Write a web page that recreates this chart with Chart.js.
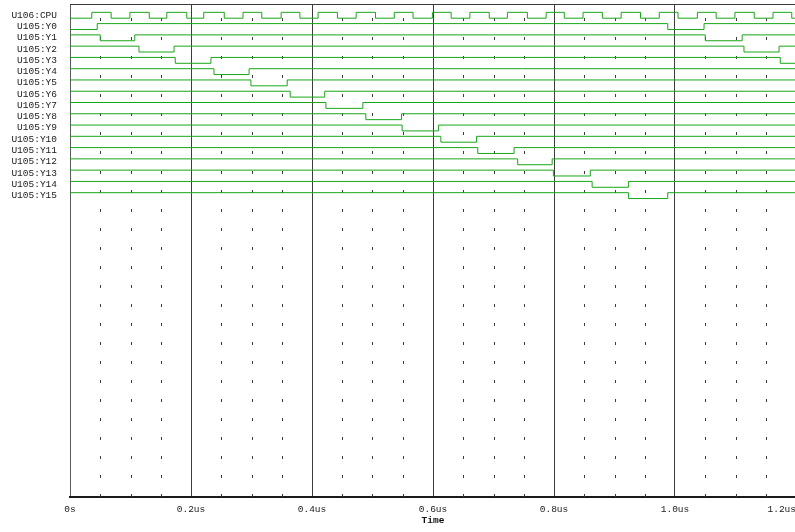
<!DOCTYPE html>
<html>
<head>
<meta charset="utf-8">
<title>U105 decoder timing</title>
<script src="https://cdn.jsdelivr.net/npm/chart.js@4/dist/chart.umd.min.js"></script>
<style>
  html, body { margin: 0; padding: 0; background: #ffffff; overflow: hidden; }
  canvas { display: block; }
</style>
</head>
<body>
<canvas id="wave" width="850" height="532"></canvas>
<script>
// Trace names, top to bottom
const signalNames = ['U106:CPU', 'U105:Y0', 'U105:Y1', 'U105:Y2', 'U105:Y3', 'U105:Y4', 'U105:Y5',
    'U105:Y6', 'U105:Y7', 'U105:Y8', 'U105:Y9', 'U105:Y10', 'U105:Y11', 'U105:Y12',
    'U105:Y13', 'U105:Y14', 'U105:Y15'];

// Level at t = 0 (1 = high, 0 = low)
const startLevels = [0, 0, 1, 1, 1, 1, 1, 1, 1, 1, 1, 1, 1, 1, 1, 1, 1];

// Edge times in us (each edge toggles the level)
const cpuEdges = [0.036, 0.068, 0.099, 0.131, 0.160, 0.193, 0.221, 0.255, 0.286, 0.317,
    0.349, 0.380, 0.410, 0.442, 0.473, 0.505, 0.536, 0.567, 0.599, 0.630, 0.661, 0.693,
    0.723, 0.756, 0.787, 0.817, 0.848, 0.880, 0.911, 0.943, 0.974, 1.005, 1.037, 1.068,
    1.099, 1.131, 1.162, 1.193];
const decoderEdges = [
    [0.045, 0.988, 1.048],          // Y0
    [0.050, 0.107, 1.050, 1.111],   // Y1
    [0.114, 0.172, 1.114, 1.172],   // Y2
    [0.174, 0.233, 1.174],          // Y3
    [0.238, 0.296],                 // Y4
    [0.299, 0.359],                 // Y5
    [0.364, 0.421],                 // Y6
    [0.423, 0.484],                 // Y7
    [0.489, 0.548],                 // Y8
    [0.549, 0.609],                 // Y9
    [0.613, 0.672],                 // Y10
    [0.674, 0.734],                 // Y11
    [0.740, 0.797],                 // Y12
    [0.799, 0.860],                 // Y13
    [0.863, 0.923],                 // Y14
    [0.923, 0.988]                  // Y15
];

// Time axis
const timeMin = 0;
const timeMax = 1.2;
const majorStep = 0.2;
const minorStep = 0.05;
const timeLabels = ['0s', '0.2us', '0.4us', '0.6us', '0.8us', '1.0us', '1.2us'];

const LOW_DROP = 0.52;   // low level sits this far below the row's high level
const traceColor = '#19a619';
const monoFont = { family: 'Liberation Mono', size: 9.5 };

const isMajor = v => Math.abs(v / majorStep - Math.round(v / majorStep)) < 1e-6;

function buildTrace(row, start, edges) {
    const yFor = lvl => (lvl ? row : row + LOW_DROP);
    let level = start;
    const pts = [{ x: timeMin, y: yFor(level) }];
    edges.forEach(t => {
        level = 1 - level;
        pts.push({ x: t, y: yFor(level) });
    });
    pts.push({ x: timeMax, y: yFor(level) });
    return pts;
}

const allEdges = [cpuEdges].concat(decoderEdges);
const datasets = signalNames.map((name, i) => ({
    label: name,
    data: buildTrace(i, startLevels[i], allEdges[i]),
    stepped: true,
    borderColor: traceColor,
    borderWidth: 1,
    pointRadius: 0,
    fill: false,
    xAxisID: 'x',
    yAxisID: 'y'
}));

// dotted grid marks and the top frame line
const gridMarks = {
    id: 'gridMarks',
    beforeDatasetsDraw(chart) {
        const { ctx, chartArea: area, scales: { x, g } } = chart;
        ctx.save();
        ctx.fillStyle = '#3a3a3a';
        x.ticks.forEach(t => {
            if (isMajor(t.value)) return;
            const px = Math.round(x.getPixelForValue(t.value));
            for (let k = Math.ceil(g.min); k <= Math.floor(g.max); k++) {
                const py = Math.round(g.getPixelForValue(k));
                ctx.fillRect(px, py - 1, 1, 3);
            }
        });
        ctx.fillStyle = '#3c3c3c';
        ctx.fillRect(area.left, area.top, area.right - area.left, 1);
        ctx.restore();
    }
};

new Chart(document.getElementById('wave'), {
    type: 'line',
    data: { datasets },
    plugins: [gridMarks],
    options: {
        responsive: false,
        animation: false,
        devicePixelRatio: 1,
        events: [],
        layout: { padding: { top: 4, right: 54, bottom: 0, left: 0 } },
        plugins: {
            legend: { display: false },
            tooltip: { enabled: false }
        },
        scales: {
            x: {
                type: 'linear',
                position: 'bottom',
                min: timeMin,
                max: timeMax,
                afterFit: s => { s.height = 35; },
                border: { display: true, color: '#1a1a1a', width: 2 },
                grid: {
                    drawTicks: false,
                    lineWidth: 1,
                    color: c => {
                        const v = c.tick ? c.tick.value : 0;
                        if (v === timeMin) return '#5a5a5a';
                        return isMajor(v) ? '#3c3c3c' : 'rgba(0,0,0,0)';
                    }
                },
                ticks: {
                    stepSize: minorStep,
                    autoSkip: false,
                    maxRotation: 0,
                    padding: 7,
                    color: '#1a1a1a',
                    font: monoFont,
                    callback: v => {
                        if (!isMajor(v)) return '';
                        const label = timeLabels[Math.round(v / majorStep)];
                        // last label is pulled in to stay inside the window, as in the original
                        return Math.abs(v - timeMax) < 1e-6 ? label.padEnd(10) : label;
                    }
                },
                title: {
                    display: true,
                    text: 'Time',
                    color: '#111111',
                    font: { family: 'Liberation Mono', size: 9.5, weight: 'bold' },
                    padding: { top: 0, bottom: 6 }
                }
            },
            y: {
                type: 'linear',
                position: 'left',
                reverse: true,
                min: -0.74,
                max: 43.0,
                afterFit: s => {
                    s.width = 70;
                    s.paddingTop = 0;
                    s.paddingBottom = 0;
                },
                afterBuildTicks: s => { s.ticks = signalNames.map((n, i) => ({ value: i + 0.26 })); },
                grid: { display: false, drawTicks: false },
                border: { display: false },
                ticks: {
                    autoSkip: false,
                    padding: 13,
                    color: '#1a1a1a',
                    font: monoFont,
                    callback: (v, i) => signalNames[i]
                }
            },
            g: {
                type: 'linear',
                axis: 'y',
                position: 'right',
                display: false,
                reverse: true,
                min: 0.21,
                max: 26.08
            }
        }
    }
});
</script>
</body>
</html>
